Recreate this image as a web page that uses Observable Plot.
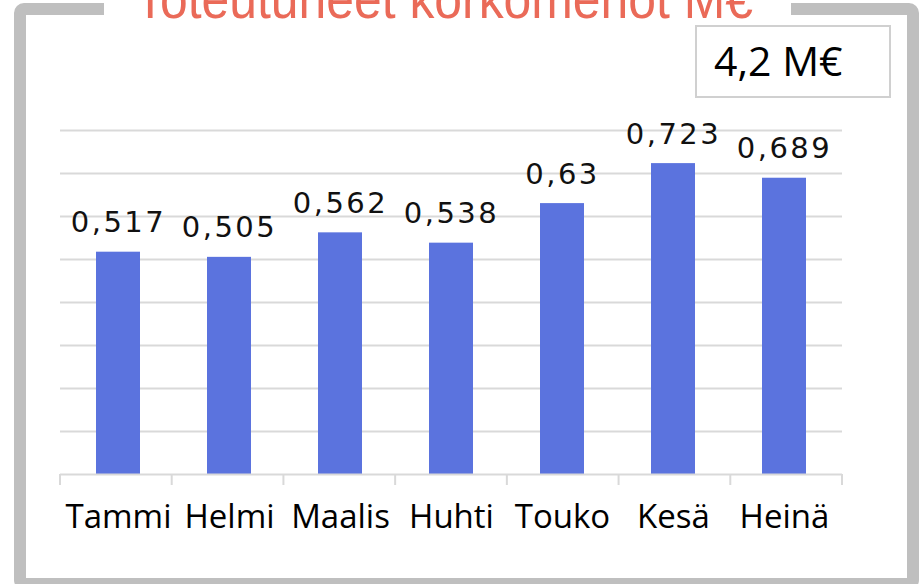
<!DOCTYPE html>
<html><head><meta charset="utf-8">
<script src="https://cdn.jsdelivr.net/npm/d3@7"></script>
<script src="https://cdn.jsdelivr.net/npm/@observablehq/plot@0.6"></script>
<style>
body{margin:0;background:#fff}
#wrap{position:relative;width:919px;height:584px;overflow:hidden;background:#fff}
#frame{position:absolute;left:14px;top:3px;width:881px;height:563px;border:12px solid #bfbfbf;border-radius:10px;box-sizing:content-box}
#chart{position:absolute;left:0;top:0}
#overlay{position:absolute;left:0;top:0}
</style></head><body>
<div id="wrap">
  <div id="frame"></div>
  <div id="chart"></div>
  <svg id="overlay" width="919" height="110" xmlns="http://www.w3.org/2000/svg"></svg>
</div>
<script>
// ---- data ----
const months = ["Tammi", "Helmi", "Maalis", "Huhti", "Touko", "Kesä", "Heinä"];
const values = [0.517, 0.505, 0.562, 0.538, 0.63, 0.723, 0.689];
const valueLabels = ["0,517", "0,505", "0,562", "0,538", "0,63", "0,723", "0,689"];
const gridTicks = [0.1, 0.2, 0.3, 0.4, 0.5, 0.6, 0.7, 0.8];
const titleText = "Toteutuneet korkomenot M€";
const totalText = "4,2 M€";

const data = months.map((m, i) => ({month: m, value: values[i], label: valueLabels[i]}));

const chart = Plot.plot({
  width: 919, height: 584,
  marginLeft: 60, marginRight: 77, marginTop: 130, marginBottom: 110,
  x: {domain: months, paddingInner: 0.6, paddingOuter: 0.3, label: null},
  y: {domain: [0, 0.8], axis: null},
  style: {background: "transparent", fontFamily: "Open Sans", color: "#000"},
  marks: [
    Plot.ruleY(gridTicks, {stroke: "#d9d9d9", strokeWidth: 2}),
    Plot.barY(data, {x: "month", y: "value", fill: "#5B73DE"}),
    Plot.ruleY([0], {stroke: "#d9d9d9", strokeWidth: 2}),
    Plot.text(data, {x: "month", y: "value", text: "label", dy: -20, lineAnchor: "bottom",
      fontSize: 29, fontFamily: "DejaVu Sans", fill: "#111"}),
    Plot.axisX({tickSize: 0, tickPadding: 30, fontSize: 33, fill: "#000", label: null})
  ]
});
document.getElementById("chart").appendChild(chart);

// letter spacing for value labels
d3.select(chart).selectAll('g[aria-label="text"] text').attr("letter-spacing", "2.5px");

// category boundary ticks from the chart's own x scale
const sx = chart.scale("x"), sy = chart.scale("y");
const band = d3.scaleBand().domain(sx.domain).range(sx.range)
  .paddingInner(sx.paddingInner).paddingOuter(sx.paddingOuter).align(sx.align ?? 0.5);
const step = band.step(), half = band.paddingInner() * step / 2;
const bounds = sx.domain.map(d => band(d) - half);
bounds.push(band(sx.domain[sx.domain.length - 1]) + band.bandwidth() + half);
const y0 = d3.scaleLinear().domain(sy.domain).range(sy.range)(0);
d3.select(chart).append("g").attr("aria-label", "category ticks")
  .selectAll("line").data(bounds).join("line")
  .attr("x1", d => d).attr("x2", d => d).attr("y1", y0).attr("y2", y0 + 11)
  .attr("stroke", "#d9d9d9").attr("stroke-width", 2);

// overlay: title gap, title, total box
const ov = d3.select("#overlay");
ov.append("rect").attr("x", 104).attr("y", 0).attr("width", 687).attr("height", 18).attr("fill", "#fff");
ov.append("text").attr("x", 135).attr("y", 18).attr("textLength", 618).attr("lengthAdjust", "spacingAndGlyphs")
  .attr("font-family", "Liberation Sans").attr("font-size", 56).attr("fill", "#EA6A58").text(titleText);
ov.append("rect").attr("x", 696).attr("y", 26).attr("width", 194).attr("height", 71)
  .attr("fill", "#fff").attr("stroke", "#d0d0d0").attr("stroke-width", 2);
ov.append("text").attr("x", 714).attr("y", 76).attr("font-family", "Open Sans").attr("font-size", 41)
  .attr("fill", "#000").text(totalText);
</script>
</body></html>
